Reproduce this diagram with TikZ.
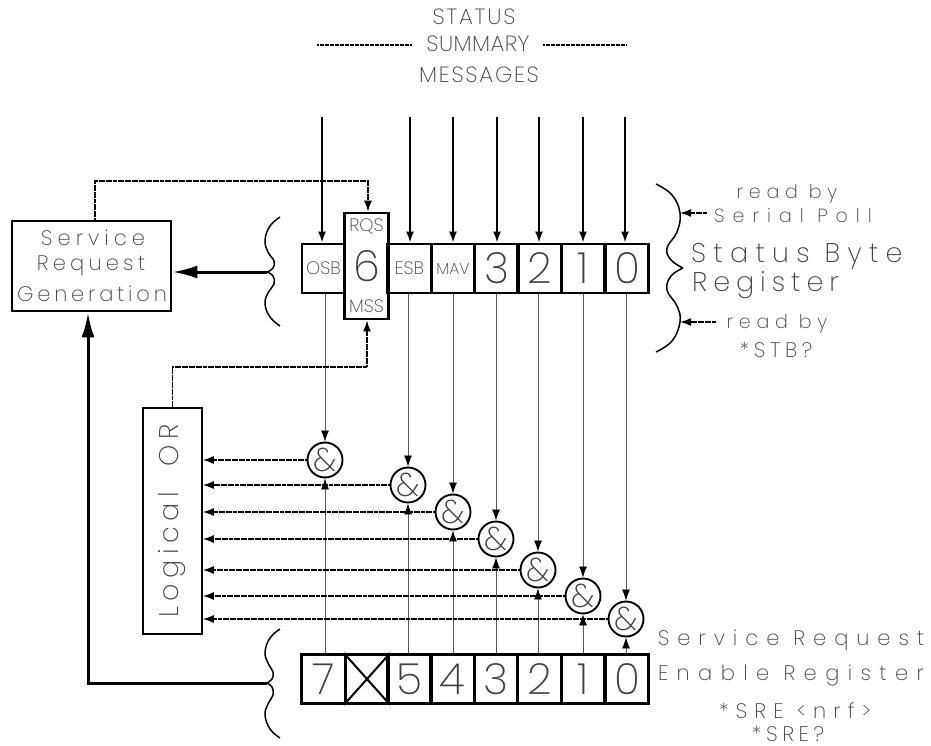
\documentclass[tikz,border=0pt]{standalone}
\usepackage{xcolor}
\usepackage{fontspec}
\setmainfont{Poppins}[UprightFont=* ExtraLight]
\usetikzlibrary{arrows.meta, positioning, calc}
\colorlet{inkgray}{black!75}
\newcommand{\tracked}[2]{\fontsize{#1}{#1}\selectfont\addfontfeature{LetterSpace=#2}}
\tikzset{
    regcell/.style={draw, line width=2.8pt, minimum width=43.5pt, minimum height=49pt, inner sep=0pt,
        text=inkgray, font=\fontsize{43}{43}\selectfont},
    smallcell/.style={regcell, font=\tracked{18}{0}},
    andgate/.style={circle, draw, line width=1.9pt, fill=white, minimum size=35pt, inner sep=0pt,
        text=inkgray, font=\fontsize{33}{33}\selectfont},
    heavybox/.style={draw, line width=2.8pt, inner sep=0pt},
    txt/.style={inner sep=0pt, text=inkgray},
    feed/.style={line width=2pt, -{Latex[length=11pt, width=8pt]}},
    thinline/.style={line width=.8pt, draw=black!65, -{Latex[black, length=11pt, width=8pt]}},
    dotline/.style={line width=1.5pt, dash pattern=on 2pt off .35pt, -{Latex[length=11pt, width=8pt]}},
    mainline/.style={line width=3pt, -{Latex[length=25pt, width=13pt]}},
    bracket/.style={line width=1.5pt}
}
\begin{document}
\begin{tikzpicture}[x=1pt, y=-1pt]
    \useasboundingbox (0,0) rectangle (931,746);
    % heading
    \node[txt, font=\tracked{22}{8}] (headA) at (474,17) {STATUS};
    \node[txt, font=\tracked{22}{2}] (headB) at (478,44) {SUMMARY};
    \node[txt, font=\tracked{22}{8}] (headC) at (479,75) {MESSAGES};
    \draw[line width=1.5pt, dash pattern=on 2pt off .5pt] (317,45) -- (412,45);
    \draw[line width=1.5pt, dash pattern=on 2pt off .5pt] (543,45) -- (626,45);

    % status byte register
    \node[smallcell, minimum width=43pt] (stbOSB) at (323.5,268.5) {OSB};
    \node[smallcell] (stbESB) at (409.5,268.5) {ESB};
    \node[smallcell, font=\tracked{16}{0}] (stbMAV) at (453,268.5) {MAV};
    \foreach \n/\x in {3/496.5, 2/539.5, 1/583, 0/627}
        \node[regcell] (stb\n) at (\x,268.5) {\n};
    \node[regcell, minimum height=106pt] (stb6) at (366.5,266) {6};
    \node[txt, font=\tracked{18}{0}] (rqs) at (366.5,226) {RQS};
    \node[txt, font=\tracked{18}{0}] (mss) at (366.5,306) {MSS};

    % enable register
    \foreach \n/\x in {7/323.5, 6/367, 5/409.5, 4/452.5, 3/496, 2/539.5, 1/583, 0/627}
        \node[regcell] (sre\n) at (\x,679) {\ifnum\n=6\else\n\fi};
    \draw[line width=2pt] (sre6.north west) -- (sre6.south east);
    \draw[line width=2pt] (sre6.north east) -- (sre6.south west);

    % left hand boxes
    \node[heavybox, minimum width=159pt, minimum height=90pt] (srg) at (91.5,266) {};
    \node[txt, font=\tracked{21}{24}] (srgA) at (93,238) {Service};
    \node[txt, font=\tracked{21}{20}] (srgB) at (91,266) {Request};
    \node[txt, font=\tracked{21}{18}] (srgC) at (92,294) {Generation};
    \node[draw, line width=1.6pt, inner sep=0pt, rotate=90, minimum width=226pt, minimum height=59pt,
        text=inkgray, font=\tracked{27}{20}] (orbox) at (172.5,521) {Logical\ \ OR};

    % and gates
    \foreach \n/\x/\y in {7/325/460, 5/408/485, 4/453/512, 3/496/539, 2/538/570, 1/583/596, 0/626/619}
        \node[andgate] (and\n) at (\x,\y) {\&};

    % status messages coming in
    \foreach \n/\x in {OSB/322, ESB/410, MAV/453, 3/497, 2/539, 1/583, 0/625} {
        \coordinate (top\n) at (\x,117);
        \draw[feed] (top\n) -- (top\n |- stb\n.north);
    }
    % register bits into the gates
    \foreach \n/\m in {OSB/7, ESB/5, MAV/4, 3/3, 2/2, 1/1, 0/0} {
        \draw[thinline] (and\m |- stb\n.south) -- (and\m.north);
        \draw[thinline] (and\m |- sre\m.north) -- (and\m.south);
        \draw[dotline] (and\m.west) -- (and\m.west -| orbox.south);
    }

    % feedback to the summary bit
    \coordinate (rqsturn) at (368,181);
    \coordinate (mssturn) at (367,367);
    \draw[dotline] ([xshift=3.5pt]srg.north) |- (rqsturn) -- (rqsturn |- stb6.north);
    \draw[dotline] (orbox.east) |- (mssturn) -- (mssturn |- stb6.south);

    % braces
    \coordinate (tipTop) at (267,272);
    \coordinate (tipLow) at (267,683);
    \coordinate (tipRight) at (683,268);
    \draw[bracket] plot[smooth, tension=.7] coordinates {(280,217) (270,226) (265,240) (268,252) (274,261) (273,268) (tipTop)};
    \draw[bracket] plot[smooth, tension=.7] coordinates {(tipTop) (273,276) (274,284) (268,293) (265,304) (270,317) (280,326)};
    \draw[bracket] plot[smooth, tension=.7] coordinates {(280,629) (270,638) (265,652) (268,663) (273,672) (272,679) (tipLow)};
    \draw[bracket] plot[smooth, tension=.7] coordinates {(tipLow) (272,687) (273,695) (268,704) (265,715) (270,729) (280,738)};
    \draw[bracket] plot[smooth, tension=.7] coordinates {(656,184) (672,195) (680,213) (677,232) (667,248) (671,260) (tipRight)};
    \draw[bracket] plot[smooth, tension=.7] coordinates {(tipRight) (671,276) (667,290) (677,306) (680,322) (672,341) (656,352)};
    \draw[mainline] (tipTop) -- (tipTop -| srg.east);
    \coordinate (lowturn) at (88,683);
    \draw[mainline] (tipLow) -- (lowturn) -- (lowturn |- srg.south);

    % read by arrows
    \coordinate (pollfoot) at (707,213);
    \coordinate (stbfoot) at (716,322);
    \draw[dotline] (pollfoot) -- (680,213);
    \draw[dotline] (stbfoot) -- (680,322);

    % labels on the right
    \node[txt, font=\tracked{19}{30}] (readA) at (787,194) {read by};
    \node[txt, font=\tracked{19}{42}] (serial) at (793,216) {Serial Poll};
    \node[txt, anchor=west, font=\tracked{27}{27}] (statA) at (691,256) {Status Byte};
    \node[txt, anchor=west, font=\tracked{27}{22}] (statB) at (692,285) {Register};
    \node[txt, font=\tracked{19}{30}] (readB) at (777,324) {read by};
    \node[txt, font=\tracked{21}{22}] (stbq) at (776,350) {*STB?};
    \node[txt, font=\tracked{21}{38}] (sreA) at (791,640) {Service Request};
    \node[txt, font=\tracked{21}{40}] (sreB) at (791,675) {Enable Register};
    \node[txt, font=\tracked{21}{34}] (sreC) at (795,711) {*SRE <nrf>};
    \node[txt, font=\tracked{21}{22}] (sreD) at (788,734) {*SRE?};
\end{tikzpicture}
\end{document}
